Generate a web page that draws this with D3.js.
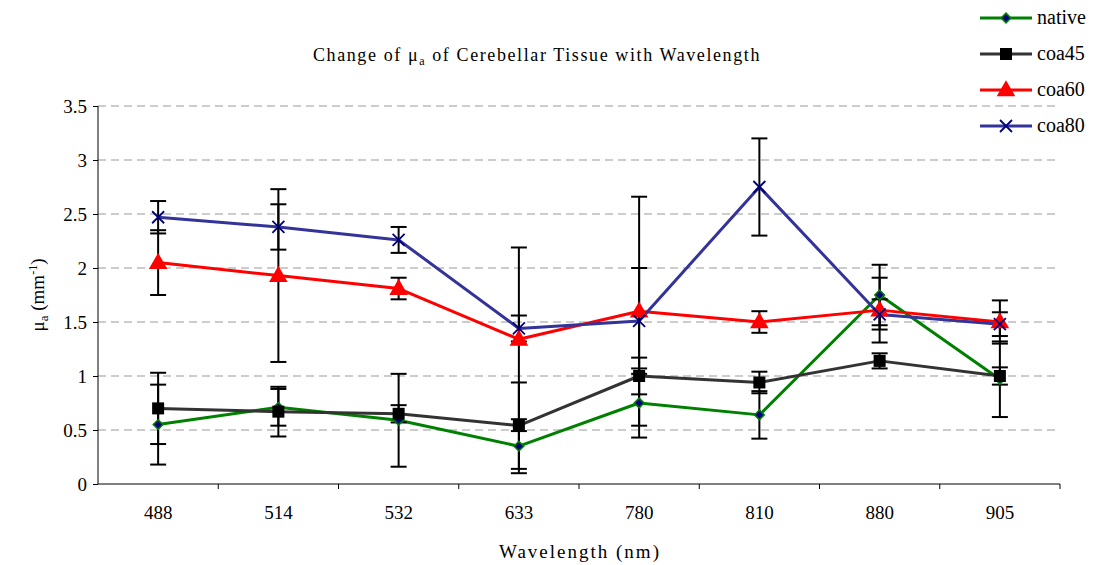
<!DOCTYPE html>
<html>
<head>
<meta charset="utf-8">
<script src="https://cdn.jsdelivr.net/npm/d3@7"></script>
<style>
  body { margin: 0; background: #fff; }
  svg text { font-family: "Liberation Serif", "DejaVu Serif", serif; fill: #000; }
</style>
</head>
<body>
<svg id="chart"></svg>
<script>
// data
var wavelengths = ["488", "514", "532", "633", "780", "810", "880", "905"];
var seriesNames = ["native", "coa45", "coa60", "coa80"];
var nativeVals = [0.55, 0.71, 0.59, 0.35, 0.75, 0.64, 1.75, 0.97];
var nativeErr  = [0.37, 0.17, 0.43, 0.25, 0.32, 0.22, 0.28, 0.35];
var coa45Vals  = [0.70, 0.67, 0.65, 0.54, 1.00, 0.94, 1.14, 1.00];
var coa45Err   = [0.33, 0.23, 0.08, 0.40, 0.17, 0.10, 0.07, 0.08];
var coa60Vals  = [2.05, 1.93, 1.81, 1.34, 1.60, 1.50, 1.61, 1.50];
var coa60Err   = [0.30, 0.80, 0.10, 0.85, 1.06, 0.10, 0.30, 0.20];
var coa80Vals  = [2.47, 2.38, 2.26, 1.44, 1.51, 2.75, 1.57, 1.48];
var coa80Err   = [0.15, 0.21, 0.12, 0.12, 0.49, 0.45, 0.14, 0.11];
var yTicks = [0, 0.5, 1, 1.5, 2, 2.5, 3, 3.5];

var W = 1099, H = 565;
var FONT = '"Liberation Serif", "DejaVu Serif", serif';
var svg = d3.select("#chart").attr("width", W).attr("height", H)
  .style("font-family", FONT);

var plotLeft = 98, plotRight = 1060, plotTop = 106, plotBottom = 484;

var x = d3.scaleBand().domain(wavelengths).range([plotLeft, plotRight]);
var y = d3.scaleLinear().domain([0, 3.5]).range([plotBottom, plotTop]);

var series = [
  {name: "native", vals: nativeVals, err: nativeErr, line: "#008000", shape: "diamond"},
  {name: "coa45", vals: coa45Vals, err: coa45Err, line: "#333333", shape: "square"},
  {name: "coa60", vals: coa60Vals, err: coa60Err, line: "#FF0000", shape: "triangle"},
  {name: "coa80", vals: coa80Vals, err: coa80Err, line: "#333399", shape: "cross"}
];

// gridlines
svg.append("g").selectAll("line")
  .data(yTicks.filter(function(d){ return d > 0; }))
  .enter().append("line")
  .attr("x1", plotLeft).attr("x2", plotRight)
  .attr("y1", function(d){ return y(d); })
  .attr("y2", function(d){ return y(d); })
  .attr("stroke", "#999")
  .attr("stroke-width", 1)
  .attr("stroke-dasharray", "8,5");

// y axis
var yAxis = svg.append("g")
  .attr("transform", "translate(" + plotLeft + ",0)")
  .call(d3.axisLeft(y).tickValues(yTicks).tickSize(5).tickPadding(6)
        .tickFormat(function(d){ return d; }));
yAxis.attr("font-family", null).attr("font-size", null);
yAxis.select(".domain").attr("stroke", "#000").attr("d", "M0," + plotTop + "V" + plotBottom);
yAxis.selectAll(".tick line").attr("stroke", "#000");
yAxis.selectAll("text").style("font-family", FONT).style("font-size", "19px").attr("fill", "#000");

// x axis, ticks between categories
var xAxis = svg.append("g")
  .attr("transform", "translate(0," + plotBottom + ")")
  .call(d3.axisBottom(x).tickSize(0).tickPadding(22));
xAxis.attr("font-family", null).attr("font-size", null);
xAxis.select(".domain").attr("stroke", "#000").attr("d", "M" + plotLeft + ",0H" + plotRight);
xAxis.selectAll("text").style("font-family", FONT).style("font-size", "19px").attr("fill", "#000");
svg.append("g").selectAll("line")
  .data(wavelengths)
  .enter().append("line")
  .attr("x1", function(d, i){ return plotLeft + x.step() * (i + 1); })
  .attr("x2", function(d, i){ return plotLeft + x.step() * (i + 1); })
  .attr("y1", plotBottom).attr("y2", plotBottom + 5)
  .attr("stroke", "#000");

function cx(i){ return x(wavelengths[i]) + x.bandwidth() / 2; }

// lines
var line = d3.line()
  .x(function(d, i){ return cx(i); })
  .y(function(d){ return y(d); });

series.forEach(function(s){
  svg.append("path")
    .datum(s.vals)
    .attr("d", line)
    .attr("fill", "none")
    .attr("stroke", s.line)
    .attr("stroke-width", 3)
    .attr("stroke-linejoin", "round");
});

// error bars
series.forEach(function(s){
  var g = svg.append("g").attr("stroke", "#000").attr("stroke-width", 2);
  s.vals.forEach(function(v, i){
    var e = s.err[i], px = cx(i);
    g.append("line").attr("x1", px).attr("x2", px).attr("y1", y(v - e)).attr("y2", y(v + e));
    g.append("line").attr("x1", px - 8).attr("x2", px + 8).attr("y1", y(v + e)).attr("y2", y(v + e));
    g.append("line").attr("x1", px - 8).attr("x2", px + 8).attr("y1", y(v - e)).attr("y2", y(v - e));
  });
});

// markers
function drawMarker(g, shape, px, py){
  if (shape == "diamond") {
    g.append("path").attr("d", d3.symbol().type(d3.symbolDiamond2).size(60)())
      .attr("transform", "translate(" + px + "," + py + ")")
      .attr("fill", "#000080").attr("stroke", "#008000").attr("stroke-width", 1.5);
  } else if (shape == "square") {
    g.append("rect").attr("x", px - 6).attr("y", py - 6).attr("width", 12).attr("height", 12)
      .attr("fill", "#000");
  } else if (shape == "triangle") {
    g.append("path").attr("d", d3.symbol().type(d3.symbolTriangle).size(150)())
      .attr("transform", "translate(" + px + "," + (py + 1) + ")")
      .attr("fill", "#FF0000");
  } else {
    g.append("path").attr("d", "M-6,-6L6,6M-6,6L6,-6")
      .attr("transform", "translate(" + px + "," + py + ")")
      .attr("stroke", "#000080").attr("stroke-width", 1.8).attr("fill", "none");
  }
}

series.forEach(function(s){
  var g = svg.append("g");
  s.vals.forEach(function(v, i){ drawMarker(g, s.shape, cx(i), y(v)); });
});

// title
var title = svg.append("text")
  .attr("x", 537).attr("y", 61)
  .attr("text-anchor", "middle")
  .style("font-size", "18px")
  .style("letter-spacing", "1.6px");
title.append("tspan").text("Change of  μ");
title.append("tspan").attr("dy", 4).style("font-size", "12px").text("a");
title.append("tspan").attr("dy", -4).text(" of Cerebellar Tissue with Wavelength");

// axis titles
svg.append("text")
  .attr("x", 580).attr("y", 558)
  .attr("text-anchor", "middle")
  .style("font-size", "19px")
  .style("letter-spacing", "2px")
  .text("Wavelength (nm)");

var yl = svg.append("text")
  .attr("transform", "translate(44,295) rotate(-90)")
  .attr("text-anchor", "middle")
  .style("font-size", "19px");
yl.append("tspan").text("μ");
yl.append("tspan").attr("dy", 4).style("font-size", "13px").text("a");
yl.append("tspan").attr("dy", -4).text(" (mm");
yl.append("tspan").attr("dy", -7).style("font-size", "12px").text("-1");
yl.append("tspan").attr("dy", 7).text(")");

// legend
var legend = svg.append("g");
series.forEach(function(s, i){
  var ly = 18 + i * 36;
  legend.append("line").attr("x1", 980).attr("x2", 1032).attr("y1", ly).attr("y2", ly)
    .attr("stroke", s.line).attr("stroke-width", 3);
  drawMarker(legend, s.shape, 1006, ly);
  legend.append("text").attr("x", 1037).attr("y", ly + 6)
    .style("font-size", "20px")
    .text(seriesNames[i]);
});
</script>
</body>
</html>
